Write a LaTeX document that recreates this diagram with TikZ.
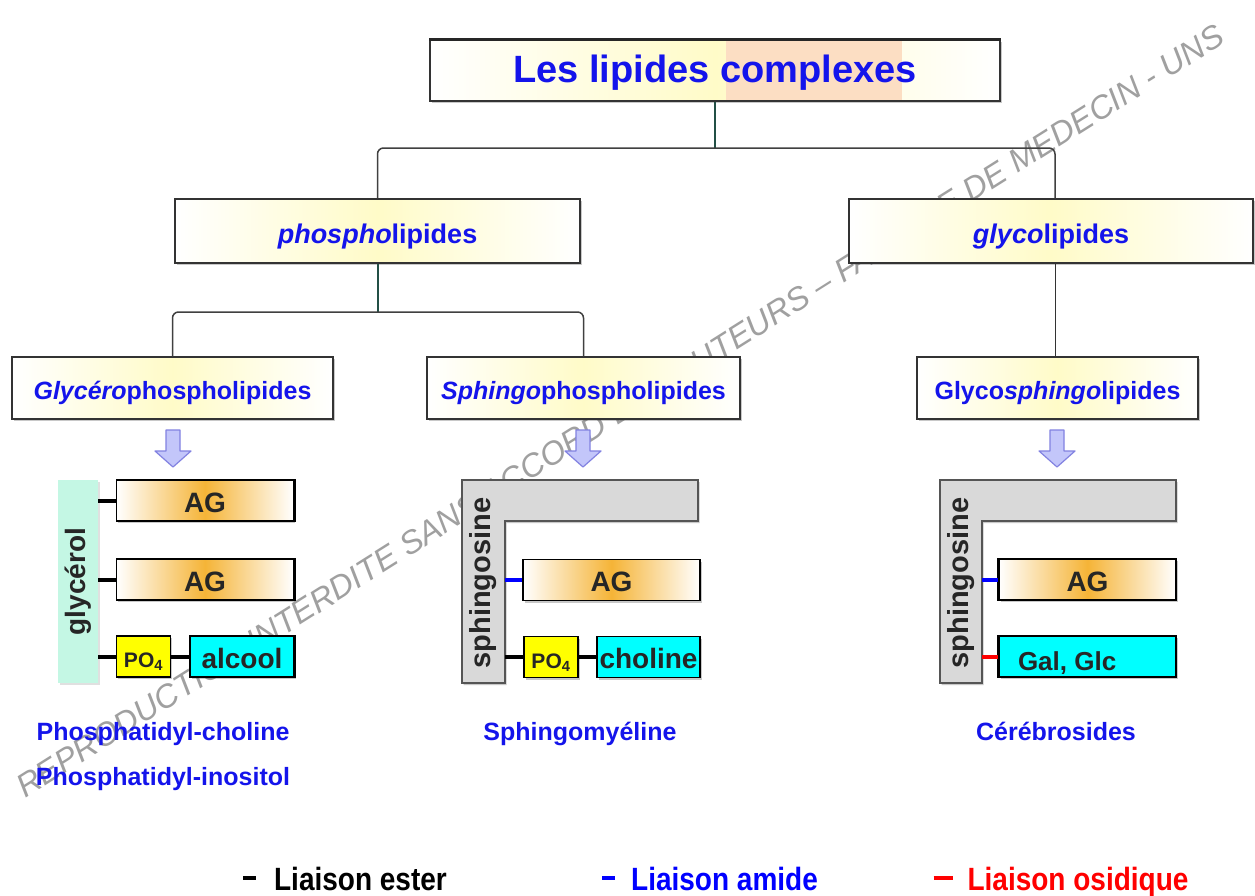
\documentclass[tikz,border=0pt]{standalone}
\usepackage{fontspec}
\setmainfont{Liberation Sans}
\usetikzlibrary{shadows,calc}
\definecolor{txtblue}{RGB}{20,20,235}
\definecolor{ylight}{RGB}{255,251,200}
\definecolor{peach}{RGB}{252,222,195}
\definecolor{agorange}{RGB}{245,180,55}
\definecolor{mint}{RGB}{196,247,228}
\definecolor{sphgray}{RGB}{217,217,217}
\definecolor{sphborder}{RGB}{85,85,85}
\definecolor{arrfill}{RGB}{195,198,250}
\definecolor{arrdraw}{RGB}{130,130,225}
\definecolor{stemcol}{RGB}{35,80,70}
\definecolor{wmgray}{RGB}{160,160,160}
\definecolor{pocyan}{RGB}{0,255,255}
\definecolor{poyellow}{RGB}{255,255,0}
\newcommand{\setfs}[1]{\fontsize{#1}{#1}\selectfont}
\begin{document}
\begin{tikzpicture}[x=1pt,y=-1pt,
  boxsh/.style={drop shadow={shadow xshift=1.5pt,shadow yshift=-2pt,opacity=0.3,fill=black!70}},
  catbox/.style={draw=black!80,line width=1.5pt,left color=white,right color=white,middle color=ylight,boxsh,inner sep=0pt,text=txtblue},
  agbox/.style={draw=black,line width=1.5pt,left color=white,right color=white,middle color=agorange,boxsh,inner sep=0pt,minimum width=177pt,minimum height=41pt,font=\setfs{28}\bfseries,text=black!85,text height=25.8pt,text depth=2.8pt},
  pobox/.style={draw=black,line width=1.5pt,fill=poyellow,boxsh,inner sep=0pt,minimum width=54pt,minimum height=41pt,font=\setfs{21}\bfseries,text=black!85,text height=24pt,text depth=2pt},
  cybox/.style={draw=black,line width=1.5pt,fill=pocyan,boxsh,inner sep=0pt,minimum height=41pt,font=\setfs{28}\bfseries,text=black!85,text height=25.8pt,text depth=2.8pt},
  sphshape/.style={fill=sphgray,draw=sphborder,line width=1.5pt,boxsh},
  stemtxt/.style={rotate=90,inner sep=0pt,minimum width=203pt,font=\setfs{29}\bfseries,text=black!85},
  br/.style={draw=black!75,line width=1.5pt,rounded corners=6pt},
  stem/.style={draw=stemcol,line width=2pt},
  ester/.style={draw=black,line width=4pt},
  amide/.style={draw=blue,line width=4pt},
  oside/.style={draw=red,line width=4pt},
  lbl/.style={font=\setfs{25}\bfseries,text=txtblue,inner sep=0pt,anchor=base},
  legtxt/.style={font=\setfs{28}\bfseries,inner sep=0pt,anchor=base},
  downarrow/.pic={\filldraw[fill=arrfill,draw=arrdraw,line width=1.2pt,line join=round]
     (-7,0) -- (7,0) -- (7,21) -- (18,21) -- (0,37) -- (-18,21) -- (-7,21) -- cycle;}
]
\useasboundingbox (0,0) rectangle (1255,895);
\fill[white] (0,0) rectangle (1255,895);

% watermark
\node[rotate=32.2,inner sep=0pt,text=wmgray,font=\setfs{32}\itshape] (wm) at (620,411)
  {\resizebox{1420pt}{!}{REPRODUCTION INTERDITE SANS ACCORD DES AUTEURS -- FACULTE DE MEDECIN - UNS}};

% title
\node[catbox,minimum width=570pt,minimum height=61pt,font=\setfs{38}\bfseries,text height=28.5pt,text depth=3.8pt,
  path picture={\fill[peach] ([xshift=296pt]path picture bounding box.south west) rectangle ([xshift=-98pt]path picture bounding box.north east);}]
  (title) at (715,70.5) {Les lipides complexes};
\draw[line width=2.5pt,black!85] (title.north west) -- (title.north east);

% level 1 and 2
\tikzset{lev1/.style={catbox,minimum width=404pt,minimum height=64pt,font=\setfs{27}\bfseries,text height=27.5pt,text depth=2.7pt},
         lev2/.style={catbox,minimum height=62pt,font=\setfs{25}\bfseries,text height=25pt,text depth=2.5pt}}
\node[lev1,minimum width=405pt] (phospho) at (377.5,231) {\textit{phospho}lipides};
\node[lev1] (glyco) at (1051,231) {\textit{glyco}lipides};

\node[lev2,minimum width=321pt] (glycero) at (172.5,388) {\textit{Glycéro}phospholipides};
\node[lev2,minimum width=313pt] (sphingo) at (583.5,388) {\textit{Sphingo}phospholipides};
\node[lev2,minimum width=281pt] (glycosph) at (1057.5,388) {Glyco\textit{sphingo}lipides};

% tree connectors
\coordinate (jt) at (715,148);
\coordinate (jp) at (377.5,312);
\draw[stem] (title.south) -- (jt);
\draw[br] (phospho.north) -- (phospho.north |- jt) -- ([xshift=4pt]glyco.north |- jt) -- ([xshift=4pt]glyco.north);
\draw[stem] (phospho.south) -- (jp);
\draw[br] (glycero.north) -- (glycero.north |- jp) -- (sphingo.north |- jp) -- (sphingo.north);
\draw[draw=black!80,line width=1.5pt] ([xshift=-2pt]glycosph.north) -- ([xshift=-2pt]glycosph.north |- glyco.south);

% arrows
\pic at (173,430) {downarrow};
\pic at (583,430) {downarrow};
\pic at (1057,430) {downarrow};

% ---- glycerophospholipid
\node[fill=mint,rotate=90,inner sep=0pt,minimum width=203pt,minimum height=40pt,
  drop shadow={shadow xshift=1.5pt,shadow yshift=-2pt,opacity=0.2,fill=black!60},
  font=\setfs{28}\bfseries,text=black!85] (glycerol) at (78,581.5) {glycérol};
\node[agbox] (ag1) at (205,500.5) {AG};
\node[agbox] (ag2) at (205,579.5) {AG};
\node[pobox] (po1) at (143.5,656.5) {PO\textsubscript{4}};
\node[cybox,minimum width=104pt] (alcool) at (242,656.5) {alcool};
\draw[line width=3pt] (ag1.north east) -- (ag1.south east);
\draw[line width=3pt] (ag2.north east) -- (ag2.south east);
\draw[line width=3pt] (alcool.north east) -- (alcool.south east);
\draw[ester] (ag1.west -| glycerol.south) -- (ag1.west);
\draw[ester] (ag2.west -| glycerol.south) -- (ag2.west);
\draw[ester] (po1.west -| glycerol.south) -- (po1.west);
\draw[ester] (po1.east) -- (alcool.west);

% ---- sphingomyeline
\path[sphshape] (462,480) -- (698,480) -- (698,521) -- (505,521) -- (505,683) -- (462,683) -- cycle;
\node[stemtxt,minimum height=43pt] (sph1) at (483.5,583) {sphingosine};
\node[agbox] (ag3) at (611.5,580) {AG};
\node[pobox] (po2) at (551,657) {PO\textsubscript{4}};
\node[cybox,minimum width=103pt] (choline) at (648.5,657) {choline};
\draw[amide] (ag3.west -| sph1.south) -- (ag3.west);
\draw[ester] (po2.west -| sph1.south) -- (po2.west);
\draw[ester] (po2.east) -- (choline.west);

% ---- cerebrosides
\path[sphshape] (940,480) -- (1176,480) -- (1176,521) -- (982,521) -- (982,683) -- (940,683) -- cycle;
\node[stemtxt,minimum height=42pt] (sph2) at (961,583) {sphingosine};
\node[agbox] (ag4) at (1087.5,579.5) {AG};
\node[cybox,minimum width=177pt,font=\setfs{26}\bfseries,text height=30pt,text depth=2.6pt] (galglc) at (1087.5,656.5) {\makebox[177pt][l]{\hspace{19pt}Gal, Glc}};
\draw[line width=3pt] (ag4.north west) -- (ag4.south west);
\draw[line width=3pt] (galglc.north west) -- (galglc.south west);
\draw[amide] (ag4.west -| sph2.south) -- (ag4.west);
\draw[oside] (galglc.west -| sph2.south) -- (galglc.west);

% labels
\node[lbl] (pc) at (163,740) {Phosphatidyl-choline};
\node[lbl] (pi) at (163,785) {Phosphatidyl-inositol};
\node[lbl] (sm) at (580,740) {Sphingomyéline};
\node[lbl] (cb) at (1056,740) {Cérébrosides};

% legend
\node[legtxt,text=black] (l1) at (345,890) {\scalebox{1}[1.15]{\rule[0.3em]{13pt}{4pt}\hspace{18pt}Liaison ester}};
\node[legtxt,text=blue] (l2) at (710,890) {\scalebox{1}[1.15]{\rule[0.3em]{13pt}{4pt}\hspace{16pt}Liaison amide}};
\node[legtxt,text=red] (l3) at (1061,890) {\scalebox{1}[1.15]{\rule[0.3em]{19pt}{4pt}\hspace{15pt}Liaison osidique}};
\end{tikzpicture}
\end{document}
